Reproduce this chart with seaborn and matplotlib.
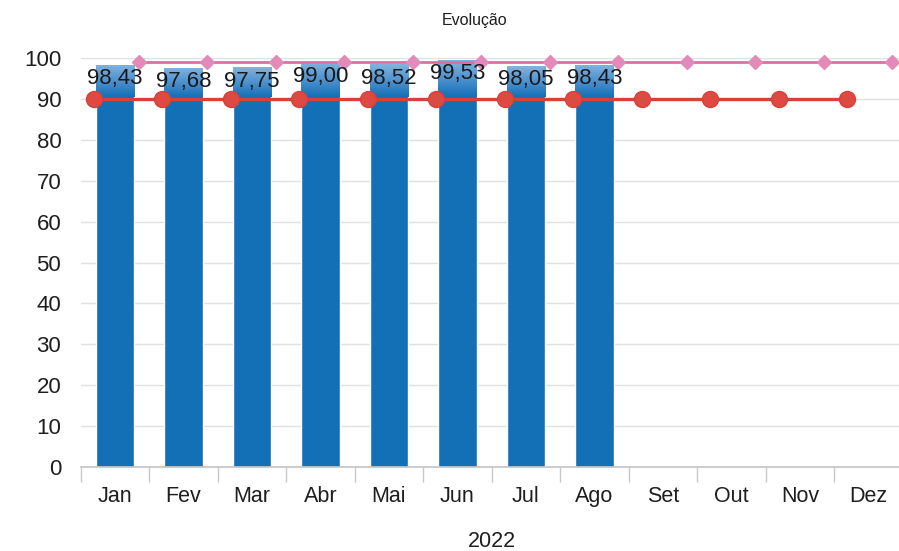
import numpy as np
import pandas as pd
import matplotlib
matplotlib.use("Agg")
import matplotlib.pyplot as plt
from matplotlib.colors import LinearSegmentedColormap
import seaborn as sns

# Monthly results for 2022
months = ["Jan", "Fev", "Mar", "Abr", "Mai", "Jun", "Jul", "Ago", "Set", "Out", "Nov", "Dez"]
realizado = [98.43, 97.68, 97.75, 99.00, 98.52, 99.53, 98.05, 98.43]
meta = [90, 90, 90, 90, 90, 90, 90, 90, 90, 90, 90, 90]
referencia = [99, 99, 99, 99, 99, 99, 99, 99, 99, 99, 99, 99]
year_label = "2022"

df = pd.DataFrame({"mes": months[:len(realizado)], "valor": realizado})

sns.set_theme(style="white")
plt.rcParams["font.family"] = ["Liberation Sans", "DejaVu Sans"]

fig = plt.figure(figsize=(8.99, 5.51), dpi=100)
ax = fig.add_axes([0.0898, 0.1525, 0.9143, 0.742])

bar_color = "#1470b6"
sns.barplot(data=df, x="mes", y="valor", order=months, color=bar_color,
            saturation=1, width=0.56, ax=ax, zorder=2)

# lighter sheen on the upper part of each bar
sheen = LinearSegmentedColormap.from_list("sheen", [bar_color, "#4f92cf", "#80b4e0"])
grad = np.linspace(0, 1, 64).reshape(-1, 1)
for p in ax.patches:
    x0, w, top = p.get_x(), p.get_width(), p.get_height()
    im = ax.imshow(grad, cmap=sheen, origin="lower", aspect="auto",
                   extent=(x0, x0 + w, 90.5, top), zorder=2.1)
    im.set_clip_path(p)

x = np.arange(len(months))
ax.plot(x - 0.31, meta, color="#d8403a", lw=2.4, marker="o", ms=11.5,
        mfc="#de4a42", mec="#d8403a", zorder=4, clip_on=False)
ax.plot(x + 0.35, referencia, color="#dc6fa6", lw=2, marker="D", ms=7,
        mfc="#e48ab8", mec="#e28bb8", zorder=3, clip_on=False)

# value labels just below the top of each bar
for i, v in enumerate(realizado):
    ax.annotate(f"{v:.2f}".replace(".", ","), (i, v), xytext=(0, -10),
                textcoords="offset points", ha="center", va="center",
                fontsize=16, color="#1a1a1a", zorder=5)

ax.set_xlim(-0.5, 11.5)
ax.set_ylim(0, 100)
ax.set_yticks(np.arange(0, 101, 10))
ax.yaxis.grid(True, color="#e0e0e0", lw=1)
ax.set_axisbelow(True)

for side in ["top", "right", "left"]:
    ax.spines[side].set_visible(False)
ax.spines["bottom"].set_color("#c4c4c4")
ax.spines["bottom"].set_linewidth(1.2)

ax.set_xticks(np.arange(-0.5, 12, 1), minor=True)
ax.tick_params(axis="x", which="minor", length=11, color="#c8c8c8", width=1, bottom=True)
ax.tick_params(axis="x", which="major", length=0, pad=14, labelsize=15.5, labelcolor="#1e1e1e")
ax.tick_params(axis="y", length=0, pad=14, labelsize=16, labelcolor="#1e1e1e")

ax.set_xlabel(year_label, fontsize=15.5, color="#1e1e1e", labelpad=17)
ax.set_ylabel("")
fig.text(0.528, 0.962, "Evolução", ha="center", va="center", fontsize=11.5, color="#1e1e1e")

fig.savefig("out.png", dpi=100)
